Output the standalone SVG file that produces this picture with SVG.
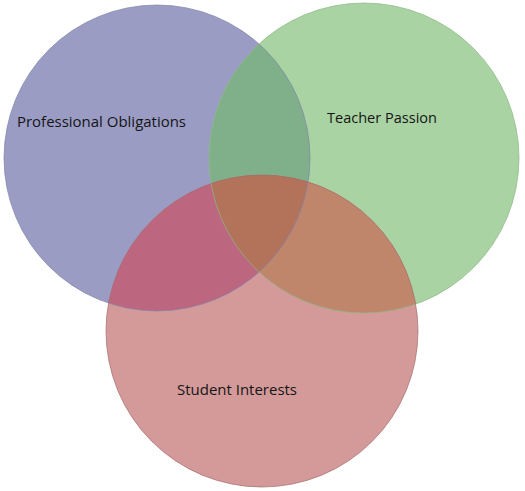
<svg xmlns="http://www.w3.org/2000/svg" width="525" height="491" viewBox="0 0 525 491">
<style>
.t{font-family:"Open Sans","Liberation Sans",sans-serif;font-size:15px;fill:#151515}
.o{fill:none;stroke-width:1}
</style>
<defs>
<clipPath id="cpB"><circle cx="157" cy="158" r="153"/></clipPath>
<clipPath id="cpG"><circle cx="364" cy="158" r="155"/></clipPath>
<circle id="cR" cx="262" cy="331" r="156"/>
</defs>
<rect width="525" height="491" fill="#ffffff"/>
<g id="professional">
<circle cx="157" cy="158" r="153" fill="#9a9cc4"/>
<text class="t" x="17" y="127" textLength="169" lengthAdjust="spacingAndGlyphs">Professional Obligations</text>
</g>
<g id="teacher">
<circle cx="364" cy="158" r="155" fill="#a9d3a3"/>
<circle cx="364" cy="158" r="155" fill="#80b08a" clip-path="url(#cpB)"/>
<text class="t" x="327" y="123" textLength="110" lengthAdjust="spacingAndGlyphs">Teacher Passion</text>
</g>
<g id="student">
<use href="#cR" fill="#d49a9a"/>
<use href="#cR" fill="#bd6680" clip-path="url(#cpB)"/>
<use href="#cR" fill="#bf866c" clip-path="url(#cpG)"/>
<g clip-path="url(#cpG)"><use href="#cR" fill="#b3735a" clip-path="url(#cpB)"/></g>
<text class="t" x="177" y="395" textLength="120" lengthAdjust="spacingAndGlyphs">Student Interests</text>
</g>
<g id="outlines">
<circle class="o" cx="157" cy="158" r="153" stroke="#7f81a8" stroke-opacity="0.7"/>
<circle class="o" cx="364" cy="158" r="155" stroke="#8bb585" stroke-opacity="0.7"/>
<circle class="o" cx="262" cy="331" r="156" stroke="#a36b6b" stroke-opacity="0.7"/>
</g>
<g id="connectors"></g>
</svg>
